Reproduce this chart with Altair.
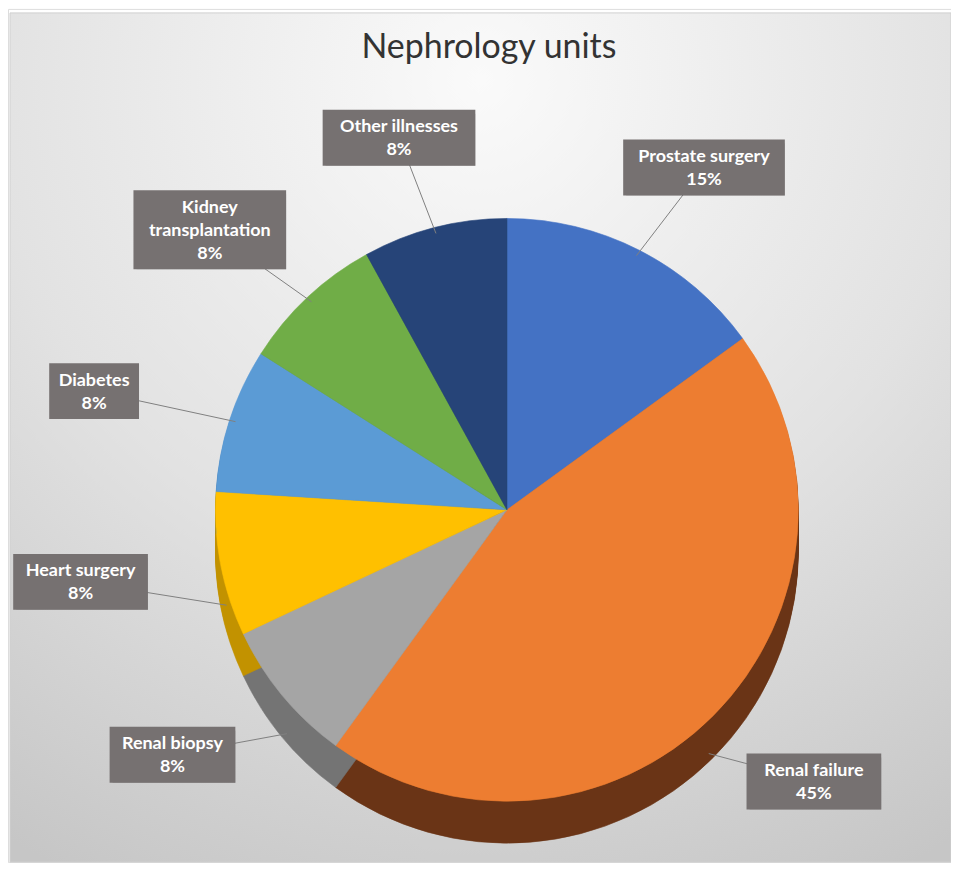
import textwrap
import altair as alt
import pandas as pd

# ---- data ----
categories = ["Prostate surgery", "Renal failure", "Renal biopsy", "Heart surgery",
              "Diabetes", "Kidney transplantation", "Other illnesses"]
shares = [15, 45, 8, 8, 8, 8, 8]

# ---- styles ----
top_colors = ["#4472C4", "#ED7D31", "#A5A5A5", "#FFC000", "#5B9BD5", "#70AD47", "#264478"]
side_colors = ["#2F5597", "#6A3416", "#747474", "#C29200", "#3D73A6", "#4F7F32", "#182E55"]

W, H = 945, 855
CX, CY, R, DEPTH = 500, 502, 292, 42
RXL, RYL = 435, 385          # label ellipse
CHAR_W, PAD_W, LINE_H, PAD_H = 9.0, 18, 23, 10
FS = 18

rows = []
for i, (c, p) in enumerate(zip(categories, shares)):
    lines = textwrap.wrap(c, 16) + [f"{p}%"]
    rows.append(dict(idx=i, category=c, pct=p, top=top_colors[i], side=side_colors[i],
                     label="\n".join(lines), nl=len(lines),
                     bw=max(len(s) for s in lines) * CHAR_W + PAD_W,
                     bh=len(lines) * LINE_H + PAD_H))
df = pd.DataFrame(rows)
base = alt.Chart(df)

# background panel with radial gradient
bg = alt.Chart(pd.DataFrame({"a": [0]})).mark_rect(
    fill=alt.Gradient(gradient="radial",
                      stops=[alt.GradientStop(color="#fafafa", offset=0),
                             alt.GradientStop(color="#e2e2e2", offset=0.55),
                             alt.GradientStop(color="#c6c6c6", offset=1)],
                      x1=0.5, y1=0.12, r1=0, x2=0.5, y2=0.12, r2=0.95),
    stroke="#d0d0d0", strokeWidth=1
).encode(x=alt.value(2), x2=alt.value(W), y=alt.value(4), y2=alt.value(H))

# soft shadow under the pie
shadow = alt.Chart(pd.DataFrame({"v": [1]})).mark_arc(
    radius=R + 10, color="#000000", opacity=0.10
).encode(theta="v:Q", x=alt.value(CX + 6), y=alt.value(CY + DEPTH + 10))

theta = alt.Theta("pct:Q", stack=True)
order = alt.Order("idx:Q")

side_layers = []
for k in range(2, DEPTH + 1, 2):
    side_layers.append(
        base.mark_arc(radius=R, strokeWidth=0.6).encode(
            theta=theta, order=order,
            fill=alt.Fill("side:N", scale=None),
            stroke=alt.Stroke("side:N", scale=None),
            x=alt.value(CX), y=alt.value(CY + k))
    )

top = base.mark_arc(radius=R, strokeWidth=0.6).encode(
    theta=theta, order=order,
    fill=alt.Fill("top:N", scale=None),
    stroke=alt.Stroke("top:N", scale=None),
    x=alt.value(CX), y=alt.value(CY))

lab = (base
       .transform_window(cum="sum(pct)", sort=[alt.SortField("idx")], frame=[None, 0])
       .transform_joinaggregate(total="sum(pct)")
       .transform_calculate(mid="2*PI*(datum.cum - datum.pct/2)/datum.total")
       .transform_calculate(
           lx=f"{CX} + {RXL}*sin(datum.mid)",
           ly=f"{CY} - {RYL}*cos(datum.mid)",
           ex=f"{CX} + {R - 6}*sin(datum.mid)",
           ey=f"{CY} - {R - 6}*cos(datum.mid) + (cos(datum.mid) < 0 ? {DEPTH} : 0)")
       .transform_calculate(
           ty=f"datum.ly - (datum.nl - 1)*{LINE_H}/2 + 1",
           bx1="datum.lx - datum.bw/2", bx2="datum.lx + datum.bw/2",
           by1="datum.ly - datum.bh/2", by2="datum.ly + datum.bh/2"))

leaders = lab.mark_rule(color="#7f7f7f", strokeWidth=1).encode(
    x=alt.X("ex:Q", scale=None, axis=None), y=alt.Y("ey:Q", scale=None, axis=None),
    x2="lx:Q", y2="ly:Q")

box_shadow = lab.mark_rect(fill="#000000", opacity=0.22, xOffset=3, yOffset=4).encode(
    x=alt.X("bx1:Q", scale=None, axis=None), x2="bx2:Q",
    y=alt.Y("by1:Q", scale=None, axis=None), y2="by2:Q")

boxes = lab.mark_rect(fill="#767171").encode(
    x=alt.X("bx1:Q", scale=None, axis=None), x2="bx2:Q",
    y=alt.Y("by1:Q", scale=None, axis=None), y2="by2:Q")

texts = lab.mark_text(lineBreak="\n", font="Lato", fontWeight="bold", fontSize=FS,
                      color="white", align="center", baseline="middle", lineHeight=LINE_H).encode(
    x=alt.X("lx:Q", scale=None, axis=None), y=alt.Y("ty:Q", scale=None, axis=None),
    text="label:N")

title = alt.Chart(pd.DataFrame({"t": ["Nephrology units"]})).mark_text(
    font="Lato", fontSize=34, color="#333333", align="center", baseline="middle"
).encode(text="t:N", x=alt.value(482), y=alt.value(39))

chart = alt.layer(bg, shadow, *side_layers, top, leaders, box_shadow, boxes, texts, title).properties(
    width=W, height=H, padding=0,
    autosize=alt.AutoSizeParams(type="none")
).configure_view(stroke=None).configure(background="white")

chart.save("out.html", embed_options={"renderer": "svg", "actions": False})
